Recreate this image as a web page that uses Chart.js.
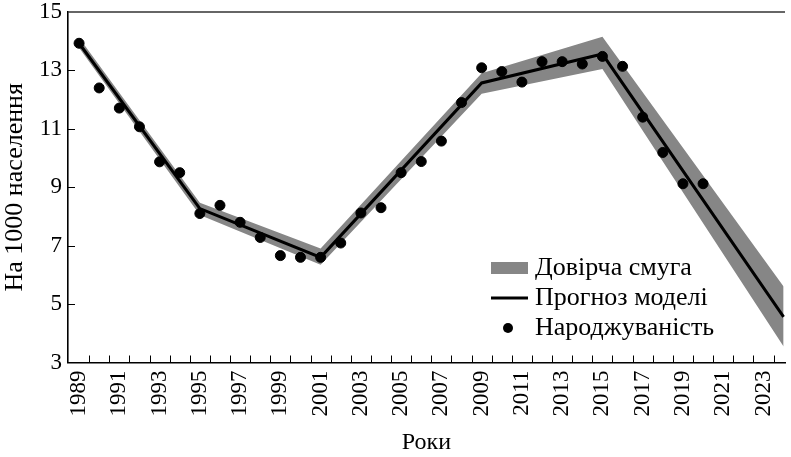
<!DOCTYPE html>
<html lang="uk">
<head>
<meta charset="utf-8">
<title>Народжуваність</title>
<script src="https://cdn.jsdelivr.net/npm/chart.js@4.4.1/dist/chart.umd.min.js"></script>
<style>
  html, body { margin: 0; padding: 0; background: #fff; }
  #wrap { width: 791px; height: 457px; }
</style>
</head>
<body>
<div id="wrap"><canvas id="grafik" width="791" height="457"></canvas></div>
<script>
// Фактичні дані (на 1000 населення)
const roky = [1989, 1990, 1991, 1992, 1993, 1994, 1995, 1996, 1997, 1998, 1999, 2000,
  2001, 2002, 2003, 2004, 2005, 2006, 2007, 2008, 2009, 2010, 2011, 2012,
  2013, 2014, 2015, 2016, 2017, 2018, 2019, 2020];
const narodzhuvanist = [13.93, 12.40, 11.71, 11.07, 9.87, 9.50, 8.10, 8.38, 7.80, 7.28, 6.66, 6.60,
  6.60, 7.09, 8.12, 8.30, 9.50, 9.88, 10.58, 11.90, 13.09, 12.96, 12.60, 13.30,
  13.30, 13.22, 13.48, 13.14, 11.40, 10.19, 9.12, 9.12];

// Прогноз моделі та довірча смуга (точки зламу)
const rokyModeli = [1989, 1995, 2001, 2009, 2015, 2024];
const prognoz = [13.93, 8.27, 6.60, 12.57, 13.56, 4.56];
const verkhnia = [14.12, 8.47, 6.90, 12.90, 14.15, 5.60];
const nyzhnia = [13.78, 8.05, 6.35, 12.20, 13.05, 3.55];

// Підписи осі X (непарні роки)
const pidpysyX = [1989, 1991, 1993, 1995, 1997, 1999, 2001, 2003, 2005, 2007, 2009,
  2011, 2013, 2015, 2017, 2019, 2021, 2023];

const shryft = '"Liberation Serif", "DejaVu Serif", serif';
const siryi = '#868686';

const toPts = (xs, ys) => xs.map((x, i) => ({ x: x, y: ys[i] }));

// Засічки всередину та верхня рамка
const zasichky = {
  id: 'zasichky',
  afterDraw(chart) {
    const { ctx, chartArea } = chart;
    const sx = chart.scales.x, sy = chart.scales.y;
    ctx.save();
    ctx.strokeStyle = '#000';
    ctx.lineWidth = 1;
    ctx.beginPath();
    for (let v = 5; v <= 13; v += 2) {
      const py = Math.round(sy.getPixelForValue(v)) + 0.5;
      ctx.moveTo(chartArea.left, py);
      ctx.lineTo(chartArea.left + 7, py);
    }
    for (let r = 1989; r < 2024; r++) {
      const px = Math.round(sx.getPixelForValue(r + 0.5)) + 0.5;
      ctx.moveTo(px, chartArea.bottom);
      ctx.lineTo(px, chartArea.bottom - 7);
    }
    ctx.stroke();
    ctx.strokeStyle = '#333';
    ctx.lineWidth = 1.6;
    ctx.beginPath();
    ctx.moveTo(chartArea.left, chartArea.top);
    ctx.lineTo(chartArea.right, chartArea.top);
    ctx.stroke();
    ctx.restore();
  }
};

// Легенда в правому нижньому куті
const legenda = {
  id: 'legenda',
  afterDraw(chart) {
    const { ctx } = chart;
    const x0 = 491, yRows = [268, 298, 328];
    ctx.save();
    ctx.fillStyle = siryi;
    ctx.fillRect(x0, yRows[0] - 6, 37, 12);
    ctx.strokeStyle = '#000';
    ctx.lineWidth = 3;
    ctx.beginPath();
    ctx.moveTo(x0, yRows[1]);
    ctx.lineTo(x0 + 37, yRows[1]);
    ctx.stroke();
    ctx.fillStyle = '#000';
    ctx.beginPath();
    ctx.arc(x0 + 17, yRows[2], 5, 0, Math.PI * 2);
    ctx.fill();
    ctx.font = '26px ' + shryft;
    ctx.textBaseline = 'middle';
    ctx.fillText('Довірча смуга', 535, yRows[0]);
    ctx.fillText('Прогноз моделі', 535, yRows[1]);
    ctx.fillText('Народжуваність', 535, yRows[2]);
    ctx.restore();
  }
};

new Chart(document.getElementById('grafik'), {
  type: 'line',
  data: {
    datasets: [
      {
        label: 'Народжуваність',
        type: 'scatter',
        data: toPts(roky, narodzhuvanist),
        backgroundColor: '#000',
        borderColor: '#000',
        pointRadius: 5,
        order: 0
      },
      {
        label: 'Прогноз моделі',
        data: toPts(rokyModeli, prognoz),
        borderColor: '#000',
        borderWidth: 3,
        pointRadius: 0,
        fill: false,
        tension: 0,
        order: 1
      },
      {
        label: 'Верхня межа',
        data: toPts(rokyModeli, verkhnia),
        borderColor: siryi,
        borderWidth: 0,
        backgroundColor: siryi,
        pointRadius: 0,
        fill: '+1',
        tension: 0,
        order: 2
      },
      {
        label: 'Нижня межа',
        data: toPts(rokyModeli, nyzhnia),
        borderColor: siryi,
        borderWidth: 0,
        pointRadius: 0,
        fill: false,
        tension: 0,
        order: 3
      }
    ]
  },
  options: {
    responsive: false,
    animation: false,
    layout: { padding: { top: 12, right: 0, left: 0, bottom: 0 } },
    plugins: {
      legend: { display: false },
      tooltip: { enabled: false }
    },
    scales: {
      x: {
        type: 'linear',
        min: 1988.45,
        max: 2024.07,
        afterBuildTicks: (scale) => { scale.ticks = pidpysyX.map(v => ({ value: v })); },
        afterFit: (scale) => {
          scale.height = 94.5;
          scale.paddingLeft = 0;
          scale.paddingRight = 0;
        },
        grid: { display: false, drawTicks: false },
        border: { display: true, color: '#000', width: 1.6 },
        ticks: {
          autoSkip: false,
          maxRotation: 90,
          minRotation: 90,
          padding: 8,
          color: '#000',
          font: { family: shryft, size: 23 },
          callback: (v) => String(v)
        },
        title: {
          display: true,
          text: 'Роки',
          color: '#000',
          font: { family: shryft, size: 24 },
          padding: { top: 2, bottom: 0 }
        }
      },
      y: {
        min: 3,
        max: 15,
        afterFit: (scale) => {
          scale.width = 68;
          scale.paddingTop = 0;
          scale.paddingBottom = 0;
        },
        grid: { display: false, drawTicks: false },
        border: { display: true, color: '#000', width: 1.6 },
        ticks: {
          stepSize: 2,
          padding: 6,
          color: '#000',
          font: { family: shryft, size: 23 }
        },
        title: {
          display: true,
          text: 'На 1000 населення',
          color: '#000',
          font: { family: shryft, size: 26 },
          padding: { top: 0, bottom: 2 }
        }
      }
    }
  },
  plugins: [zasichky, legenda]
});
</script>
</body>
</html>
